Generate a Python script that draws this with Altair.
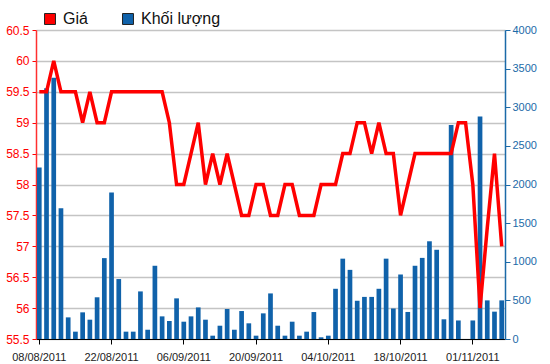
import altair as alt
import pandas as pd

dates = [
    "08/08/2011", "09/08/2011", "10/08/2011", "11/08/2011", "12/08/2011",
    "15/08/2011", "16/08/2011", "17/08/2011", "18/08/2011", "19/08/2011",
    "22/08/2011", "23/08/2011", "24/08/2011", "25/08/2011", "26/08/2011",
    "29/08/2011", "30/08/2011", "31/08/2011", "01/09/2011", "05/09/2011",
    "06/09/2011", "07/09/2011", "08/09/2011", "09/09/2011", "12/09/2011",
    "13/09/2011", "14/09/2011", "15/09/2011", "16/09/2011", "19/09/2011",
    "20/09/2011", "21/09/2011", "22/09/2011", "23/09/2011", "26/09/2011",
    "27/09/2011", "28/09/2011", "29/09/2011", "30/09/2011", "03/10/2011",
    "04/10/2011", "05/10/2011", "06/10/2011", "07/10/2011", "10/10/2011",
    "11/10/2011", "12/10/2011", "13/10/2011", "14/10/2011", "17/10/2011",
    "18/10/2011", "19/10/2011", "20/10/2011", "21/10/2011", "24/10/2011",
    "25/10/2011", "26/10/2011", "27/10/2011", "28/10/2011", "31/10/2011",
    "01/11/2011", "02/11/2011", "03/11/2011", "04/11/2011", "07/11/2011",
]

price = [
    59.5, 59.5, 60.0, 59.5, 59.5, 59.5, 59.0, 59.5, 59.0, 59.0,
    59.5, 59.5, 59.5, 59.5, 59.5, 59.5, 59.5, 59.5, 59.0, 58.0,
    58.0, 58.5, 59.0, 58.0, 58.5, 58.0, 58.5, 58.0, 57.5, 57.5,
    58.0, 58.0, 57.5, 57.5, 58.0, 58.0, 57.5, 57.5, 57.5, 58.0,
    58.0, 58.0, 58.5, 58.5, 59.0, 59.0, 58.5, 59.0, 58.5, 58.5,
    57.5, 58.0, 58.5, 58.5, 58.5, 58.5, 58.5, 58.5, 59.0, 59.0,
    58.0, 56.0, 57.3, 58.5, 57.0,
]

volume = [
    2220, 3245, 3383, 1694, 280, 95, 345, 250, 540, 1047,
    1896, 776, 95, 95, 616, 120, 948, 293, 233, 526,
    224, 293, 409, 250, 43, 172, 388, 120, 362, 203,
    43, 332, 590, 172, 43, 224, 43, 95, 349, 22,
    43, 650, 1040, 895, 495, 545, 545, 650, 1040, 395,
    835, 350, 948, 1050, 1265, 1155, 255, 2770, 240, 0,
    240, 2880, 500, 354, 500,
]

tick_dates = ["08/08/2011", "22/08/2011", "06/09/2011", "20/09/2011",
              "04/10/2011", "18/10/2011", "01/11/2011"]
series_names = ["Giá", "Khối lượng"]
series_colors = ["#ff0000", "#1062aa"]
price_ticks = [55.5, 56, 56.5, 57, 57.5, 58, 58.5, 59, 59.5, 60, 60.5]
volume_ticks = [0, 500, 1000, 1500, 2000, 2500, 3000, 3500, 4000]

df = pd.DataFrame({"date": dates, "price": price, "volume": volume})

FONT = "Liberation Sans"

x_enc = alt.X(
    "date:N", sort=dates, title=None,
    scale=alt.Scale(paddingInner=0.35, paddingOuter=0.13),
    axis=alt.Axis(values=tick_dates, labelAngle=0, labelFont=FONT, labelFontSize=11,
                  labelColor="#222222", tickColor="#000000", tickSize=5,
                  labelPadding=7, domainColor="#000000", domainWidth=1, grid=False),
)

bars = alt.Chart(df).transform_calculate(series="'Khối lượng'").mark_bar(
    color="#1062aa"
).encode(
    x=x_enc,
    y=alt.Y("volume:Q", title=None,
            scale=alt.Scale(domain=[0, 4000], nice=False),
            axis=alt.Axis(orient="right", values=volume_ticks, format="d", grid=False,
                          labelFont=FONT, labelFontSize=11, labelColor="#1b6aa8",
                          tickColor="#1b6aa8", tickSize=5, labelPadding=2,
                          domainColor="#1b6aa8", domainWidth=1.5)),
    color=alt.Color("series:N",
                    scale=alt.Scale(domain=series_names, range=series_colors),
                    legend=alt.Legend(title=None, orient="none", direction="horizontal",
                                      legendX=6, legendY=-19, symbolType="square",
                                      symbolSize=120, symbolStrokeColor="#222222",
                                      symbolStrokeWidth=1, symbolOpacity=1,
                                      labelFont=FONT, labelFontSize=16,
                                      labelColor="#111111", labelOffset=5,
                                      columnPadding=32)),
)

line = alt.Chart(df).mark_line(color="#ff0000", strokeWidth=3.5).encode(
    x=x_enc,
    y=alt.Y("price:Q", title=None,
            scale=alt.Scale(domain=[55.5, 60.5], nice=False, zero=False),
            axis=alt.Axis(orient="left", values=price_ticks, format=".1~f",
                          grid=True, gridColor="#c4c4c4", gridWidth=1.5,
                          labelFont=FONT, labelFontSize=12, labelColor="#ff0000",
                          tickColor="#ff0000", tickSize=4, labelPadding=3,
                          domainColor="#ff3030", domainWidth=1.5)),
)

chart = alt.layer(bars, line).resolve_scale(y="independent").properties(
    width=469, height=309,
    padding={"left": 36, "top": 30, "right": 45, "bottom": 25},
    autosize=alt.AutoSizeParams(type="none"),
).configure_view(stroke="#000000", strokeWidth=1).configure(background="#ffffff")

chart.save("out.html", embed_options={"renderer": "svg", "actions": False})
